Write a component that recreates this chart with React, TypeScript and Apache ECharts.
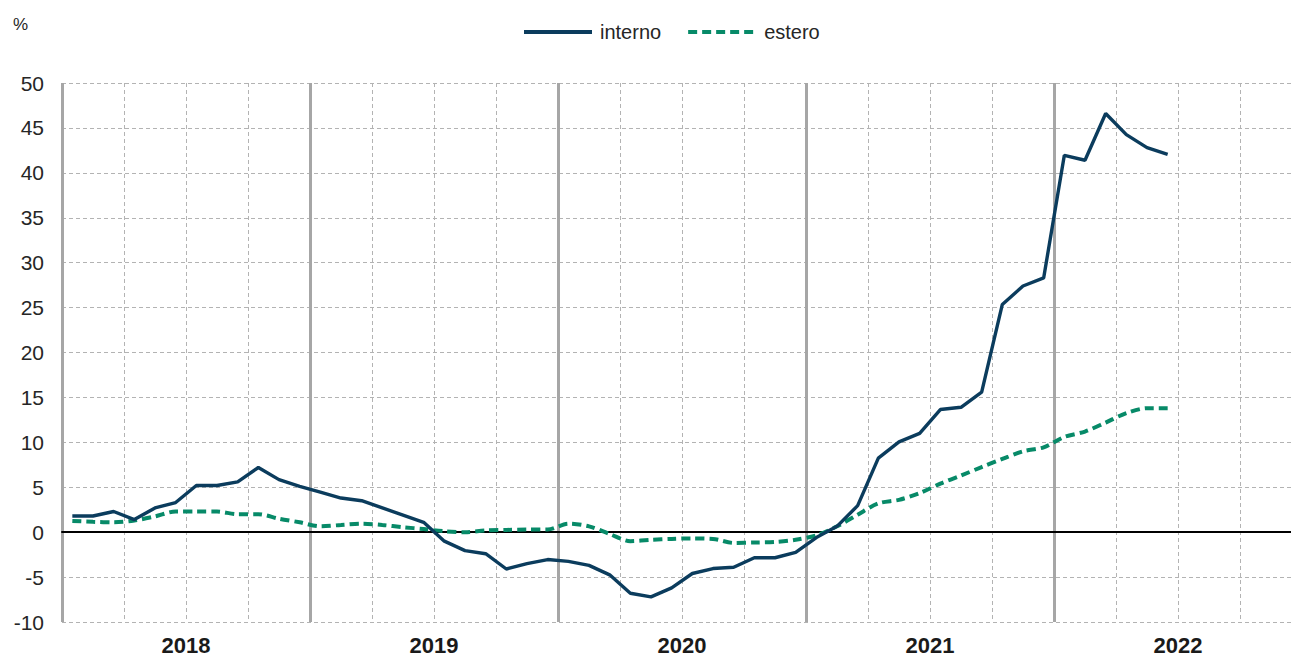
import React, { useEffect, useRef } from "react";
import * as echarts from "echarts";

const years = ["2018", "2019", "2020", "2021", "2022"];
const monthsPerYear = 12;
const months = years.flatMap((y) =>
  Array.from({ length: monthsPerYear }, (_, m) => `${y}-${String(m + 1).padStart(2, "0")}`)
);

const interno = [
  1.8, 1.8, 2.3, 1.4, 2.7, 3.3, 5.2, 5.2, 5.6, 7.2, 5.85, 5.1,
  4.45, 3.8, 3.5, 2.7, 1.9, 1.1, -1.0, -2.05, -2.4, -4.1, -3.5, -3.05,
  -3.25, -3.7, -4.75, -6.8, -7.2, -6.2, -4.6, -4.05, -3.9, -2.85, -2.85, -2.25,
  -0.6, 0.65, 2.95, 8.25, 10.05, 11.0, 13.65, 13.9, 15.6, 25.35, 27.4, 28.3,
  41.95, 41.4, 46.6, 44.25, 42.8, 42.05,
];

const estero = [
  1.25, 1.15, 1.1, 1.3, 1.75, 2.3, 2.3, 2.3, 2.0, 2.0, 1.5, 1.1,
  0.65, 0.8, 0.95, 0.8, 0.55, 0.35, 0.1, 0.0, 0.2, 0.25, 0.3, 0.3,
  0.95, 0.65, -0.2, -1.0, -0.85, -0.75, -0.7, -0.75, -1.2, -1.15, -1.1, -0.85,
  -0.35, 0.65, 1.95, 3.2, 3.6, 4.35, 5.4, 6.3, 7.25, 8.15, 9.0, 9.45,
  10.6, 11.2, 12.2, 13.25, 13.8, 13.8,
];

const yMin = -10;
const yMax = 50;
const yStep = 5;

const FONT = "'Liberation Sans', Arial, sans-serif";
const COL_INT = "#0b3c5d";
const COL_EST = "#078a68";

export default function App() {
  const ref = useRef<HTMLDivElement>(null);

  useEffect(() => {
    if (!ref.current) return;
    const chart = echarts.init(ref.current, undefined, { renderer: "svg" });
    chart.setOption({
      animation: false,
      backgroundColor: "#ffffff",
      textStyle: { fontFamily: FONT },
      grid: { left: 62, right: 0, top: 83, bottom: 35, containLabel: false },
      legend: {
        top: 17,
        left: 517,
        itemWidth: 68,
        itemHeight: 14,
        itemGap: 25,
        itemStyle: { opacity: 0, color: "transparent", borderWidth: 0 },
        lineStyle: { width: 4 },
        textStyle: { fontFamily: FONT, fontSize: 20, color: "#262626", padding: [0, 0, 0, 3] },
        data: ["interno", "estero"],
      },
      graphic: [
        {
          type: "text",
          left: 13,
          top: 16,
          style: { text: "%", fontFamily: FONT, fontSize: 17, fill: "#262626" },
        },
      ],
      xAxis: [
        {
          type: "category",
          data: months,
          position: "top",
          boundaryGap: true,
          axisLine: { show: true, onZero: true, lineStyle: { color: "#000000", width: 2 } },
          axisTick: { show: false },
          axisLabel: { show: false },
          splitLine: {
            show: true,
            interval: (index: number) => index % 3 === 0 && index % 12 !== 0,
            lineStyle: { color: "#b3b3b3", type: [4, 3], width: 1 },
          },
        },
        {
          type: "category",
          data: years,
          position: "bottom",
          boundaryGap: true,
          axisLine: { show: false, onZero: false },
          axisTick: { show: false },
          axisLabel: {
            show: true,
            fontFamily: FONT,
            fontSize: 22,
            fontWeight: "bold",
            color: "#1a1a1a",
            margin: 12,
          },
          splitLine: { show: true, lineStyle: { color: "#a6a6a6", width: 3, type: "solid" } },
        },
      ],
      yAxis: {
        type: "value",
        min: yMin,
        max: yMax,
        interval: yStep,
        axisLine: { show: false },
        axisTick: { show: false },
        axisLabel: { fontFamily: FONT, fontSize: 21, color: "#262626", margin: 18 },
        splitLine: { show: true, lineStyle: { color: "#b3b3b3", type: [4, 3], width: 1 } },
      },
      series: [
        {
          name: "interno",
          type: "line",
          xAxisIndex: 0,
          data: interno,
          showSymbol: false,
          symbol: "none",
          lineStyle: { color: COL_INT, width: 3.4 },
          itemStyle: { color: COL_INT },
          z: 4,
        },
        {
          name: "estero",
          type: "line",
          xAxisIndex: 0,
          data: estero,
          showSymbol: false,
          symbol: "none",
          smooth: 0.3,
          lineStyle: { color: COL_EST, width: 4, type: [9, 5] },
          itemStyle: { color: COL_EST },
          z: 3,
        },
      ],
    });
    return () => chart.dispose();
  }, []);

  return (
    <div style={{ width: 1291, height: 657, position: "absolute", left: 0, top: 0, overflow: "hidden" }}>
      <div ref={ref} style={{ width: 1302, height: 657 }} />
    </div>
  );
}
